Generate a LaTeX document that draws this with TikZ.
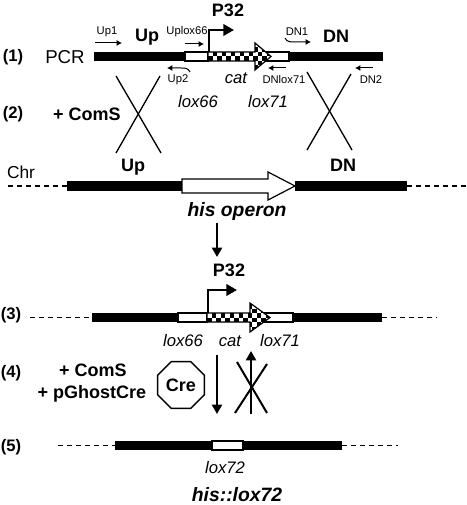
\documentclass[tikz,border=0pt]{standalone}
\usepackage{fontspec}
\setmainfont{Liberation Sans}
\usetikzlibrary{arrows.meta}
\usetikzlibrary{shapes.geometric}

\tikzset{
  lbl/.style={inner sep=0.75pt},
  num/.style={lbl,font=\fontsize{12.5}{15}\selectfont\bfseries},
  gene/.style={lbl,font=\fontsize{13.5}{16}\selectfont\bfseries},
  plainlbl/.style={lbl,font=\fontsize{14}{16}\selectfont},
  loxlbl/.style={lbl,font=\fontsize{12.5}{15}\selectfont\itshape},
  primerlbl/.style={lbl,font=\fontsize{8.4}{10}\selectfont},
  locus/.style={lbl,font=\fontsize{14.5}{17}\selectfont\bfseries\itshape},
  dna/.style={fill=black},
  loxbox/.style={draw=black,fill=white,line width=0.8pt},
  flank/.style={dashed,dash pattern=on 3.8pt off 3pt,line width=0.9pt},
  primer/.style={line width=0.75pt,-{Latex[length=4pt,width=4.5pt]}},
  promoter/.style={line width=2pt,-{Triangle[length=8pt,width=8.5pt]}},
  stage/.style={line width=1.6pt,-{Triangle[length=7pt,width=7.5pt]}},
  cross/.style={line width=1pt},
}

\begin{document}
\begin{tikzpicture}[x=0.75pt,y=0.75pt,yscale=-1,xscale=1]
\useasboundingbox (0,0) rectangle (466,505);

% (1) PCR fragment
\fill[dna] (94,52) rectangle (185,61);
\draw[loxbox] (185,52) rectangle (208,61);
\draw[loxbox] (255,52) rectangle (289,61);
\fill[dna] (289,52) rectangle (383,61);
\begin{scope}
\clip (208,52) -- (255,52) -- (255,43) -- (271,56.5) -- (255,70) -- (255,61) -- (208,61) -- cycle;
\fill[white] (206,40) rectangle (273,73);
\foreach \i in {0,...,13} {\foreach \j in {-4,-2,0,2} {
  \fill[black] ({208+\i*4.5},{56.5+(\j+mod(\i,2))*4.5}) rectangle ++(4.5,4.5);
}}
\end{scope}
\draw[line width=0.9pt] (208,52) -- (255,52) -- (255,43) -- (271,56.5) -- (255,70) -- (255,61) -- (208,61) -- cycle;
\draw[promoter] (209,52) -- (209,30) -- (234,30);
\draw (228,10) node [gene] (p32a) {P32};
\draw (13,57) node [num] (lab1) {(1)};
\draw (65,57) node [plainlbl] (pcr) {PCR};
\draw (147,37) node [gene] (upa) {Up};
\draw (336,36) node [gene] (dna) {DN};
\draw (107,32) node [primerlbl] (up1) {Up1};
\draw[primer] (95,43) -- (122,43);
\draw (187,32) node [primerlbl] (uplox) {Uplox66};
\draw[primer] (185,44) -- (204,44);
\draw (178,80) node [primerlbl] (up2) {Up2};
\draw[primer] (190,72) .. controls (188,68) and (185,68) .. (181,68) -- (167,68);
\draw (297,32) node [primerlbl] (dn1) {DN1};
\draw[primer] (285,38) .. controls (287,42) and (290,42) .. (295,42) -- (311,42);
\draw (284,80) node [primerlbl] (dnlox) {DNlox71};
\draw[primer] (286,68) -- (268,68);
\draw (371,80) node [primerlbl] (dn2) {DN2};
\draw[primer] (373,68) -- (355,68);
\draw (198,102) node [loxlbl] (lox66a) {lox66};
\draw (236,78) node [loxlbl] (cata) {cat};
\draw (268,102) node [loxlbl] (lox71a) {lox71};

% (2) recombination
\draw[cross] (116,76) -- (161,153);
\draw[cross] (160,76) -- (116,153);
\draw[cross] (307,72) -- (352,150);
\draw[cross] (351,74) -- (307,150);
\draw (13,114) node [num] (lab2) {(2)};
\draw (87,114) node [gene] (coms1) {+ ComS};

% chromosome
\draw (21,172) node [plainlbl,font=\fontsize{13}{15}\selectfont] (chr) {Chr};
\draw[flank] (8,186) -- (67,186);
\fill[dna] (67,181) rectangle (182,191);
\draw[line width=0.9pt,fill=white] (182,179) -- (268,179) -- (268,172) -- (295,186) -- (268,200) -- (268,193) -- (182,193) -- cycle;
\fill[dna] (295,181) rectangle (407,191);
\draw[flank] (407,186) -- (466,186);
\draw (133,167) node [gene] (upb) {Up};
\draw (343,165) node [gene] (dnb) {DN};
\draw (237,212) node [locus] (hisop) {his operon};
\coordinate (insA) at (217,223);
\coordinate (insB) at (217,257);
\draw[stage] (insA) -- (insB);

% (3) insertion
\draw (11,315) node [num] (lab3) {(3)};
\draw[flank] (30,317.5) -- (92,317.5);
\fill[dna] (92,313) rectangle (178,322);
\draw[loxbox] (178,313) rectangle (207,322);
\draw[loxbox] (250,313) rectangle (293,322);
\fill[dna] (293,313) rectangle (382,322);
\draw[flank] (382,317.5) -- (437,317.5);
\begin{scope}
\clip (207,313) -- (250,313) -- (250,303) -- (270,317.5) -- (250,332) -- (250,322) -- (207,322) -- cycle;
\fill[white] (205,300) rectangle (272,335);
\foreach \i in {0,...,13} {\foreach \j in {-4,-2,0,2} {
  \fill[black] ({207+\i*4.5},{317.5+(\j+mod(\i,2))*4.5}) rectangle ++(4.5,4.5);
}}
\end{scope}
\draw[line width=0.9pt] (207,313) -- (250,313) -- (250,303) -- (270,317.5) -- (250,332) -- (250,322) -- (207,322) -- cycle;
\draw[promoter] (208,313) -- (208,290) -- (237,290);
\draw (229,270) node [gene] (p32b) {P32};
\draw (183,341) node [loxlbl] (lox66b) {lox66};
\draw (230,341) node [loxlbl] (catb) {cat};
\draw (280,341) node [loxlbl] (lox71b) {lox71};

% (4) Cre excision
\draw (11,373) node [num] (lab4) {(4)};
\draw (93,370) node [gene] (coms2) {+ ComS};
\draw (92,394) node [gene] (ghost) {+ pGhostCre};
\node[draw,regular polygon,regular polygon sides=8,minimum size=38pt,inner sep=0pt,line width=1.1pt,font=\fontsize{13.5}{16}\selectfont\bfseries] (cre) at (181,385) {Cre};
\coordinate (fwdA) at (217,355);
\coordinate (fwdB) at (217,414);
\coordinate (revA) at (251,414);
\coordinate (revB) at (251,351);
\draw[stage] (fwdA) -- (fwdB);
\draw[stage] (revA) -- (revB);
\draw[cross,line width=1.5pt] (237,362) -- (267,413);
\draw[cross,line width=1.5pt] (267,364) -- (235,413);

% (5) final locus
\draw (11,447) node [num] (lab5) {(5)};
\draw[flank] (58,445.5) -- (115,445.5);
\fill[dna] (115,441) rectangle (212,450);
\draw[loxbox] (212,441) rectangle (243,450);
\fill[dna] (243,441) rectangle (342,450);
\draw[flank] (342,445.5) -- (398,445.5);
\draw (225,468) node [loxlbl] (lox72) {lox72};
\draw (237,495) node [locus] (hislox) {his::lox72};
\end{tikzpicture}
\end{document}
